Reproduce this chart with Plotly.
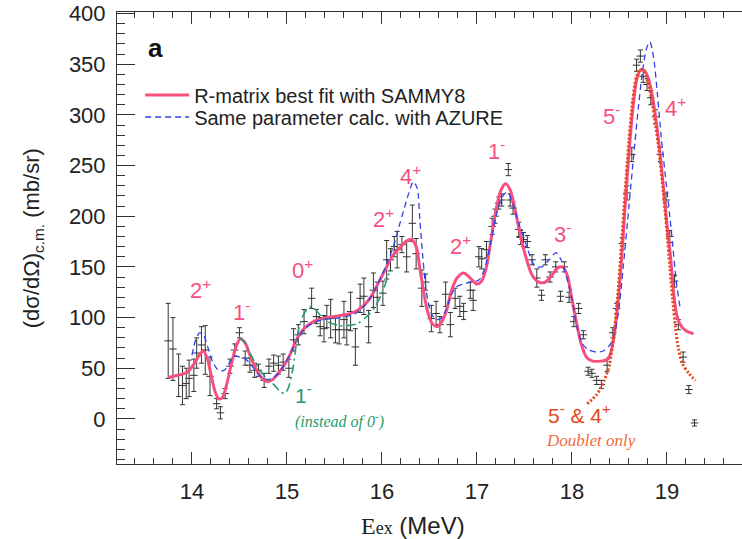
import plotly.graph_objects as go

# Measured differential cross section (black crosses)
exp_e = [13.75, 13.80, 13.86, 13.90, 13.94, 13.97, 14.02, 14.05, 14.10, 14.14,
         14.19, 14.26, 14.30, 14.35, 14.40, 14.45, 14.50, 14.56, 14.61, 14.66,
         14.70, 14.76, 14.81, 14.86, 14.91, 14.96, 15.02, 15.07, 15.12, 15.18,
         15.26, 15.31, 15.35, 15.39, 15.42, 15.46, 15.51, 15.55, 15.60, 15.63,
         15.67, 15.72, 15.77, 15.81, 15.86, 15.91, 15.95, 16.01, 16.05, 16.09,
         16.13, 16.16, 16.21, 16.26, 16.32, 16.36, 16.42, 16.46, 16.52, 16.57,
         16.61, 16.67, 16.72, 16.77, 16.82, 16.86, 16.93, 16.96, 17.02, 17.05,
         17.10, 17.16, 17.19, 17.23, 17.26, 17.33, 17.35, 17.38, 17.44, 17.46,
         17.49, 17.53, 17.58, 17.63, 17.68, 17.72, 17.77, 17.83, 17.88, 17.92,
         17.97, 18.02, 18.07, 18.12, 18.17, 18.21, 18.26, 18.31, 18.37, 18.43,
         18.47, 18.53, 18.58, 18.63, 18.68, 18.72, 18.75, 18.79, 18.83, 18.88,
         18.93, 18.99, 19.03, 19.08, 19.12, 19.17, 19.23, 19.29]
exp_xs = [77, 69, 43, 33, 35, 40, 43, 65, 73, 68,
          42, 15, 6, 25, 52, 68, 85, 60, 53, 48,
          48, 38, 52, 55, 53, 56, 50, 78, 83, 96,
          119, 101, 91, 89, 101, 99, 88, 88, 98, 88,
          106, 71, 119, 121, 91, 127, 120, 124, 157, 157,
          170, 167, 172, 160, 193, 163, 129, 135, 99, 104,
          93, 123, 93, 119, 111, 106, 127, 117, 160, 158,
          167, 190, 200, 213, 216, 246, 216, 208, 187, 179,
          177, 175, 157, 139, 122, 157, 140, 150, 121, 150,
          120, 96, 109, 83, 47, 45, 38, 34, 53, 85,
          109, 173, 223, 261, 349, 358, 338, 330, 317, 298,
          261, 216, 180, 136, 93, 61, 29, -4]
exp_err = [37, 31, 21, 19, 15, 18, 16, 15, 18, 24,
           19, 5, 6, 5, 7, 6, 5, 7, 7, 7,
           6, 7, 7, 8, 9, 8, 9, 11, 10, 12,
           10, 7, 9, 13, 11, 19, 13, 14, 18, 15,
           19, 18, 14, 18, 16, 17, 15, 12, 19, 11,
           10, 18, 8, 15, 18, 15, 18, 8, 13, 12,
           8, 12, 12, 10, 10, 8, 8, 10, 10, 10,
           8, 8, 7, 6, 6, 6, 6, 6, 7, 7,
           7, 6, 5, 9, 5, 5, 5, 5, 5, 5,
           5, 5, 5, 4, 4, 4, 4, 4, 6, 5,
           5, 6, 7, 7, 6, 6, 6, 6, 7, 7,
           7, 7, 6, 6, 5, 5, 4, 3]

# R-matrix best fit (SAMMY8)
sammy_e = [13.75, 13.85, 13.95, 14.02, 14.07, 14.12, 14.16, 14.20, 14.24, 14.28,
           14.32, 14.36, 14.41, 14.46, 14.51, 14.56, 14.61, 14.67, 14.73, 14.79,
           14.85, 14.91, 14.97, 15.03, 15.08, 15.13, 15.19, 15.28, 15.38, 15.50,
           15.62, 15.72, 15.81, 15.88, 15.94, 16.00, 16.06, 16.12, 16.19, 16.25,
           16.31, 16.36, 16.40, 16.44, 16.48, 16.53, 16.58, 16.63, 16.68, 16.73,
           16.79, 16.86, 16.93, 17.00, 17.05, 17.10, 17.15, 17.20, 17.25, 17.30,
           17.35, 17.40, 17.46, 17.52, 17.58, 17.65, 17.72, 17.79, 17.85, 17.90,
           17.95, 18.00, 18.05, 18.10, 18.16, 18.22, 18.30, 18.36, 18.40, 18.44,
           18.48, 18.52, 18.56, 18.60, 18.64, 18.68, 18.72, 18.76, 18.80, 18.84,
           18.88, 18.92, 18.96, 19.00, 19.04, 19.07, 19.10, 19.14, 19.20, 19.28]
sammy_xs = [41, 43, 46, 54, 62, 67, 60, 44, 28, 20,
            21, 32, 52, 70, 79, 75, 63, 50, 41, 37,
            39, 45, 53, 63, 74, 83, 90, 96, 99, 101,
            103, 106, 112, 120, 130, 141, 152, 162, 169, 175,
            177, 170, 148, 125, 106, 94, 91, 96, 107, 126,
            139, 144, 139, 133, 136, 150, 178, 206, 225, 232,
            226, 207, 180, 158, 142, 135, 135, 142, 149, 150,
            142, 118, 94, 73, 60, 57, 57, 58, 63, 80,
            110, 155, 210, 262, 305, 334, 344, 344, 337, 322,
            298, 268, 232, 192, 158, 125, 104, 93, 87, 84]

# Same parameters calculated with AZURE
azure_e = [14.00, 14.04, 14.08, 14.12, 14.17, 14.22, 14.28, 14.34, 14.40, 14.45,
           14.50, 14.55, 14.60, 14.66, 14.72, 14.78, 14.84, 14.91, 14.97, 15.03,
           15.08, 15.13, 15.19, 15.28, 15.38, 15.50, 15.62, 15.72, 15.81, 15.88,
           15.94, 16.00, 16.06, 16.12, 16.18, 16.23, 16.28, 16.33, 16.37, 16.40,
           16.43, 16.47, 16.52, 16.57, 16.62, 16.67, 16.72, 16.78, 16.85, 16.93,
           17.02, 17.08, 17.14, 17.20, 17.26, 17.32, 17.38, 17.44, 17.50, 17.55,
           17.61, 17.68, 17.76, 17.83, 17.88, 17.94, 18.00, 18.05, 18.11, 18.18,
           18.25, 18.33, 18.40, 18.44, 18.49, 18.54, 18.60, 18.65, 18.70, 18.75,
           18.79, 18.82, 18.86, 18.90, 18.94, 18.99, 19.03, 19.06, 19.10, 19.14]
azure_xs = [63, 78, 85, 83, 70, 56, 48, 48, 56, 62,
            61, 60, 56, 49, 42, 39, 40, 45, 53, 63,
            73, 82, 89, 95, 98, 99, 101, 104, 111, 120,
            130, 142, 155, 170, 190, 206, 222, 234, 228, 195,
            160, 124, 104, 98, 99, 107, 120, 130, 133, 135,
            137, 148, 172, 200, 218, 224, 212, 193, 177, 163,
            151, 150, 157, 164, 158, 141, 118, 92, 74, 68,
            66, 67, 73, 81, 106, 150, 210, 260, 308, 348,
            367, 372, 356, 320, 278, 234, 200, 172, 134, 109]

# Alternative fit with a 1- level instead of 0-
alt_e = [14.50, 14.55, 14.60, 14.65, 14.72, 14.79, 14.86, 14.93, 14.98, 15.02,
         15.06, 15.09, 15.12, 15.16, 15.21, 15.26, 15.31, 15.37, 15.45, 15.55,
         15.64, 15.74, 15.84, 15.93, 16.00, 16.05, 16.09]
alt_xs = [80, 76, 67, 58, 47, 40, 34, 27, 25, 32,
          48, 68, 87, 100, 108, 111, 107, 100, 95, 92,
          92, 94, 101, 111, 124, 137, 148]

# 5- & 4+ doublet contribution alone
doublet_e = [18.16, 18.21, 18.26, 18.30, 18.34, 18.39, 18.44, 18.48, 18.52, 18.56,
             18.60, 18.64, 18.68, 18.72, 18.76, 18.80, 18.84, 18.88, 18.92, 18.96,
             19.00, 19.03, 19.06, 19.09, 19.12, 19.16, 19.23, 19.30]
doublet_xs = [15, 19, 24, 30, 38, 52, 81, 120, 170, 225,
              275, 315, 338, 345, 342, 332, 315, 290, 262, 225,
              185, 150, 118, 90, 70, 55, 45, 38]

# Level assignments written next to the resonances
level_text = ["2<sup>+</sup>", "1<sup>-</sup>", "0<sup>+</sup>", "2<sup>+</sup>", "4<sup>+</sup>",
              "2<sup>+</sup>", "1<sup>-</sup>", "3<sup>-</sup>", "5<sup>-</sup>", "4<sup>+</sup>"]
level_e = [14.09, 14.52, 15.16, 16.02, 16.30, 16.83, 17.21, 17.90, 18.42, 19.09]
level_xs = [128, 106, 148, 198, 241, 172, 265, 183, 300, 308]

PINK = "#f7507f"
BLUE = "#3040ee"
GREEN = "#1f9d6e"
ORANGE = "#e5461c"
INK = "#222222"
SANS = "Liberation Sans, Arial, sans-serif"
SERIF = "Liberation Serif, Times New Roman, serif"

fig = go.Figure()

fig.add_trace(go.Scatter(
    x=exp_e, y=exp_xs, mode="markers",
    marker=dict(size=1, color="#333333"),
    error_y=dict(type="data", array=exp_err, visible=True,
                 color="#333333", thickness=1, width=2.5),
    error_x=dict(type="constant", value=0.04, visible=True,
                 color="#333333", thickness=1, width=0),
    showlegend=False, hoverinfo="skip",
))

fig.add_trace(go.Scatter(
    x=sammy_e, y=sammy_xs, mode="lines", line_shape="spline",
    line=dict(color=PINK, width=3, smoothing=0.8),
    name="R-matrix best fit with SAMMY8", legend="legend",
))

fig.add_trace(go.Scatter(
    x=azure_e, y=azure_xs, mode="lines", line_shape="spline",
    line=dict(color=BLUE, width=1.3, dash="6px,4px", smoothing=0.8),
    name="Same parameter calc. with AZURE", legend="legend2",
))

fig.add_trace(go.Scatter(
    x=alt_e, y=alt_xs, mode="lines", line_shape="spline",
    line=dict(color=GREEN, width=1.6, dash="9px,4px,2px,4px", smoothing=0.8),
    showlegend=False,
))

fig.add_trace(go.Scatter(
    x=doublet_e, y=doublet_xs, mode="lines", line_shape="spline",
    line=dict(color=ORANGE, width=3, dash="2px,2px", smoothing=0.8),
    showlegend=False,
))

annotations = []
for txt, xe, yv in zip(level_text, level_e, level_xs):
    annotations.append(dict(
        x=xe, y=yv, xref="x", yref="y", text=txt, showarrow=False,
        font=dict(family=SANS, size=22, color=PINK),
        xanchor="center", yanchor="middle",
    ))

annotations += [
    dict(x=15.17, y=25, xref="x", yref="y", text="1<sup>-</sup>", showarrow=False,
         font=dict(family=SANS, size=21, color=GREEN), xanchor="center", yanchor="middle"),
    dict(x=15.55, y=-2, xref="x", yref="y", text="<i>(instead of 0<sup>-</sup>)</i>",
         showarrow=False, font=dict(family=SERIF, size=16, color=GREEN),
         xanchor="center", yanchor="middle"),
    dict(x=18.08, y=5, xref="x", yref="y", text="5<sup>-</sup> &amp; 4<sup>+</sup>",
         showarrow=False, font=dict(family=SANS, size=21, color=ORANGE),
         xanchor="center", yanchor="middle"),
    dict(x=18.20, y=-21, xref="x", yref="y", text="<i>Doublet only</i>",
         showarrow=False, font=dict(family=SERIF, size=17, color="#ef6a40"),
         xanchor="center", yanchor="middle"),
    dict(x=0.0615, y=0.92, xref="paper", yref="paper", text="<b>a</b>",
         showarrow=False, font=dict(family=SANS, size=26, color="#111111"),
         xanchor="center", yanchor="middle"),
    # axis titles
    dict(x=-0.134, y=0.50, xref="paper", yref="paper",
         text="(dσ/dΩ)<sub>c.m.</sub> (mb/sr)", textangle=-90, showarrow=False,
         font=dict(family=SANS, size=22, color=INK), xanchor="center", yanchor="middle"),
    dict(x=0.474, y=-0.135, xref="paper", yref="paper",
         text=('<span style="font-family:Liberation Serif">E'
               '<span style="font-size:18px">ex</span></span> (MeV)'),
         showarrow=False, font=dict(family=SANS, size=24, color=INK),
         xanchor="center", yanchor="middle"),
]

legend_common = dict(
    xanchor="left", yanchor="middle", bgcolor="rgba(0,0,0,0)", borderwidth=0,
    font=dict(family=SANS, size=20, color=INK), itemwidth=44,
    itemclick=False, itemdoubleclick=False,
)

fig.update_layout(
    width=742, height=539,
    margin=dict(l=117, r=0, t=12, b=75),
    paper_bgcolor="white", plot_bgcolor="white",
    annotations=annotations,
    legend=dict(x=0.037, y=0.8164, **legend_common),
    legend2=dict(x=0.037, y=0.7677, **legend_common),
)

fig.update_xaxes(
    range=[13.211, 19.79], dtick=1, tick0=14,
    showline=True, linecolor="#333333", linewidth=1, mirror="ticks",
    ticks="inside", ticklen=12, tickwidth=1, tickcolor="#333333",
    minor=dict(dtick=0.2, ticks="inside", ticklen=6, tickcolor="#333333", showgrid=False),
    showgrid=False, zeroline=False,
    tickfont=dict(family=SANS, size=22, color=INK), ticklabelstandoff=8,
)
fig.update_yaxes(
    range=[-44.5, 401.5], dtick=50, tick0=0,
    showline=True, linecolor="#333333", linewidth=1,
    ticks="inside", ticklen=18, tickwidth=1, tickcolor="#333333",
    minor=dict(dtick=10, ticks="inside", ticklen=8, tickcolor="#333333", showgrid=False),
    showgrid=False, zeroline=False,
    tickfont=dict(family=SANS, size=22, color=INK), ticklabelstandoff=6,
)

fig.write_html("out.html")
